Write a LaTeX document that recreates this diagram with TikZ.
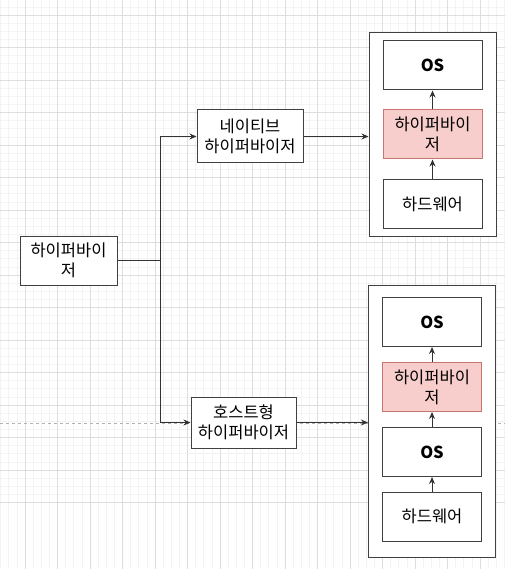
\documentclass[tikz,border=0pt]{standalone}
\usepackage{fontspec}
\setmainfont{Noto Sans CJK KR}
\usepackage{xcolor}
\usepackage{tikz}
\usetikzlibrary{arrows.meta,positioning,calc}

\definecolor{hvfill}{HTML}{F8CECC}
\definecolor{hvdraw}{HTML}{C87570}
\definecolor{gridmaj}{HTML}{DEDEDE}
\definecolor{gridmin}{HTML}{F3F3F3}

\begin{document}
\begin{tikzpicture}[
    x=1pt, y=-1pt,
    font=\fontsize{16.5}{20}\selectfont,
    box/.style={rectangle, draw=black!75, line width=1pt, fill=white, align=center, inner sep=0pt},
    layer/.style={box, minimum width=99pt, minimum height=49pt},
    hvlayer/.style={layer, draw=hvdraw, fill=hvfill},
    stack/.style={box, minimum width=127pt},
    arrow/.style={-{Stealth[length=7pt,width=6pt]}, line width=0.9pt, draw=black!80},
]
\useasboundingbox (0,0) rectangle (505,569);

% Grid
\foreach \i in {0,...,62} {
  \draw[gridmin, line width=0.6pt] ({0.625+8.125*\i},0) -- ({0.625+8.125*\i},569);
  \draw[gridmin, line width=0.6pt] (0,{-1.25+8.125*\i}) -- (505,{-1.25+8.125*\i});
}
\foreach \i in {0,...,16} {
  \draw[gridmaj, line width=0.8pt] ({-7.5+32.5*\i},0) -- ({-7.5+32.5*\i},569);
  \draw[gridmaj, line width=0.8pt] (0,{-17.5+32.5*\i}) -- (505,{-17.5+32.5*\i});
}
\coordinate (guideL) at (0,423);
\coordinate (guideR) at (505,423);
\draw[black!30, dashed, line width=0.8pt] (guideL) -- (guideR);

% Hypervisor
\node[box, minimum width=97pt, minimum height=49pt] (hv) at (68.5,260.5) {하이퍼바이\\저};

% Native hypervisor
\node[box, minimum width=106pt, minimum height=53pt] (native) at (250,136.5) {네이티브\\하이퍼바이저};

% Hosted hypervisor
\node[box, minimum width=105pt, minimum height=51pt] (host) at (243.5,422.5) {호스트형\\하이퍼바이저};

% Native stack
\node[stack, minimum height=203pt] (topbox) at (432.5,134.5) {};
\node[layer] (topos) at (432.5,65.5) {\textbf{OS}};
\node[hvlayer] (tophv) at (432.5,134.5) {하이퍼바이\\저};
\node[layer] (tophw) at (432.5,204) {하드웨어};
\draw[arrow] (tophw) -- (tophv);
\draw[arrow] (tophv) -- (topos);

% Hosted stack
\node[stack, minimum height=272pt] (botbox) at (432,421) {};
\node[layer] (botos) at (432,322) {\textbf{OS}};
\node[hvlayer] (bothv) at (432,387) {하이퍼바이\\저};
\node[layer] (hostos) at (432,452) {\textbf{OS}};
\node[layer] (bothw) at (432,516.5) {하드웨어};
\draw[arrow] (bothw) -- (hostos);
\draw[arrow] (hostos) -- (bothv);
\draw[arrow] (bothv) -- (botos);

% Fork
\coordinate (split) at (160,260.5);
\draw[line width=0.9pt, black!80] (hv.east) -- (split);
\draw[arrow] (split) |- (native.west);
\draw[arrow] (split) |- (host.west);
\draw[arrow] (native.east) -- (native.east -| topbox.west);
\draw[arrow] (host.east) -- (host.east -| botbox.west);
\end{tikzpicture}
\end{document}
